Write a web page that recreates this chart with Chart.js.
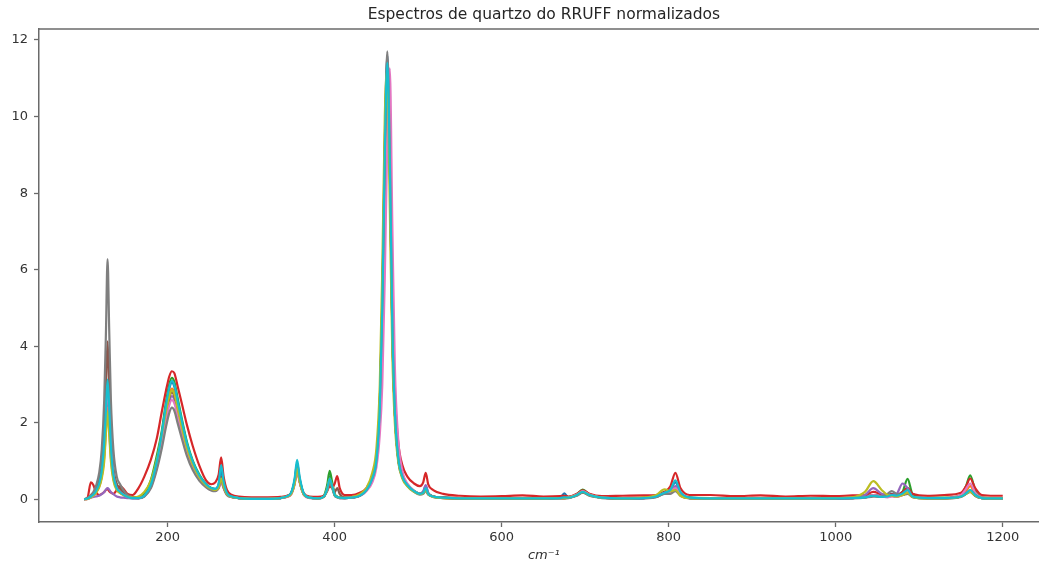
<!DOCTYPE html>
<html>
<head>
<meta charset="utf-8">
<script src="https://cdn.jsdelivr.net/npm/chart.js@4.4.1/dist/chart.umd.min.js"></script>
<style>
  html, body { margin: 0; padding: 0; background: #fff; overflow: hidden; width: 1039px; height: 569px; }
  canvas { display: block; }
</style>
</head>
<body>
<canvas id="chart" width="1039" height="569"></canvas>
<script>
// Raman shift grid (cm^-1) shared by all spectra
const wavenumbers = [
  100,104,108,111,114,118,121,124,126,128,130,132,
  135,139,143,147,152,158,165,172,180,187,
  193,198,202,205,208,212,217,223,230,238,
  246,252,257,261,264,267,271,277,285,300,
  320,335,343,348,352,355,358,363,370,380,
  387,391,394,397,400,403,406,412,420,430,
  438,445,450,454,457,460,463,466,469,472,
  476,481,487,495,502,506,509,512,518,530,
  550,575,600,625,650,670,675,680,690,697,
  705,720,745,770,785,795,802,808,814,825,
  850,880,910,940,970,1000,1020,1035,1045,1055,
  1062,1067,1073,1080,1086,1092,1110,1130,1150,1156,
  1161,1167,1175,1190,1200
];

// Normalized intensities of each quartz spectrum
const spectrum01 = [
  0.01,0.03,0.08,0.12,0.2,0.4,0.7,1.3,2.1,2.8,2.1,1.3,
  0.6,0.3,0.2,0.13,0.07,0.04,0.04,0.1,0.4,1.0,
  1.7,2.43,2.9,3.05,2.95,2.53,2.02,1.45,0.98,0.62,
  0.4,0.3,0.28,0.4,0.75,0.42,0.16,0.08,0.04,0.02,
  0.02,0.04,0.09,0.18,0.5,0.95,0.55,0.15,0.05,0.03,
  0.08,0.3,0.6,0.38,0.13,0.07,0.05,0.04,0.05,0.1,
  0.25,0.55,1.05,2.5,5.1,9.2,11.6,8.9,4.5,2.3,
  1.1,0.6,0.38,0.22,0.15,0.2,0.35,0.17,0.08,0.05,
  0.03,0.03,0.03,0.03,0.03,0.05,0.16,0.05,0.12,0.2,
  0.12,0.05,0.03,0.04,0.08,0.18,0.25,0.45,0.18,0.05,
  0.03,0.03,0.03,0.03,0.03,0.04,0.04,0.07,0.12,0.1,
  0.1,0.15,0.12,0.2,0.3,0.1,0.04,0.04,0.08,0.15,
  0.22,0.1,0.04,0.03,0.03
];
const spectrum02 = [
  0.01,0.02,0.06,0.1,0.18,0.35,0.6,1.1,1.8,2.4,1.8,1.1,
  0.55,0.28,0.18,0.12,0.06,0.04,0.04,0.1,0.37,0.93,
  1.62,2.31,2.75,2.9,2.8,2.41,1.92,1.38,0.93,0.59,
  0.37,0.28,0.25,0.32,0.55,0.34,0.14,0.07,0.04,0.02,
  0.02,0.04,0.08,0.15,0.42,0.8,0.47,0.13,0.05,0.03,
  0.08,0.28,0.55,0.35,0.12,0.07,0.05,0.04,0.05,0.1,
  0.25,0.55,1.05,2.4,4.9,8.9,11.3,8.7,4.4,2.3,
  1.1,0.6,0.38,0.22,0.15,0.18,0.28,0.15,0.08,0.05,
  0.03,0.03,0.03,0.03,0.03,0.04,0.04,0.05,0.12,0.2,
  0.12,0.05,0.03,0.04,0.08,0.18,0.2,0.28,0.12,0.04,
  0.03,0.03,0.03,0.03,0.03,0.03,0.04,0.06,0.1,0.07,
  0.08,0.1,0.08,0.12,0.18,0.08,0.04,0.04,0.1,0.22,
  0.35,0.15,0.05,0.03,0.03
];
const spectrum03 = [
  0.01,0.03,0.1,0.15,0.25,0.45,0.8,1.5,2.3,3.0,2.4,1.5,
  0.75,0.4,0.3,0.2,0.1,0.06,0.06,0.15,0.52,1.15,
  1.8,2.55,3.02,3.18,3.07,2.64,2.1,1.51,1.02,0.65,
  0.4,0.3,0.27,0.33,0.56,0.36,0.15,0.08,0.05,0.03,
  0.03,0.05,0.09,0.17,0.46,0.85,0.5,0.15,0.06,0.04,
  0.1,0.38,0.75,0.45,0.15,0.08,0.05,0.05,0.06,0.12,
  0.27,0.6,1.1,2.5,5.0,9.0,11.4,8.8,4.5,2.3,
  1.1,0.62,0.4,0.23,0.15,0.18,0.25,0.15,0.08,0.05,
  0.04,0.04,0.04,0.04,0.04,0.05,0.05,0.06,0.15,0.26,
  0.14,0.06,0.04,0.05,0.09,0.2,0.22,0.3,0.13,0.05,
  0.04,0.04,0.04,0.04,0.04,0.04,0.05,0.07,0.12,0.08,
  0.08,0.1,0.08,0.2,0.54,0.15,0.05,0.05,0.12,0.35,
  0.63,0.25,0.06,0.04,0.04
];
const spectrum04 = [
  0.01,0.05,0.45,0.38,0.2,0.12,0.15,0.2,0.25,0.28,0.22,0.18,
  0.15,0.25,0.35,0.28,0.15,0.12,0.3,0.6,1.05,1.6,
  2.3,2.85,3.22,3.35,3.3,2.95,2.5,1.95,1.4,0.88,
  0.5,0.4,0.45,0.65,1.1,0.6,0.25,0.12,0.08,0.06,
  0.06,0.07,0.1,0.18,0.46,0.85,0.5,0.16,0.08,0.07,
  0.1,0.22,0.35,0.3,0.42,0.61,0.3,0.12,0.12,0.18,
  0.3,0.6,1.1,2.4,4.9,8.8,11.3,9.0,5.0,2.8,
  1.5,0.9,0.6,0.42,0.35,0.45,0.7,0.4,0.25,0.15,
  0.1,0.08,0.09,0.11,0.08,0.09,0.1,0.08,0.15,0.24,
  0.15,0.09,0.1,0.11,0.12,0.2,0.35,0.7,0.3,0.12,
  0.12,0.09,0.11,0.08,0.1,0.09,0.11,0.12,0.2,0.14,
  0.12,0.14,0.12,0.2,0.3,0.15,0.1,0.12,0.18,0.35,
  0.55,0.3,0.12,0.1,0.1
];
const spectrum05 = [
  0.01,0.02,0.05,0.07,0.08,0.1,0.14,0.2,0.26,0.3,0.26,0.2,
  0.14,0.08,0.06,0.05,0.04,0.03,0.03,0.09,0.35,0.87,
  1.51,2.15,2.56,2.7,2.61,2.24,1.78,1.28,0.87,0.55,
  0.35,0.26,0.24,0.3,0.5,0.32,0.13,0.07,0.04,0.02,
  0.02,0.04,0.08,0.15,0.42,0.8,0.47,0.13,0.05,0.03,
  0.08,0.26,0.5,0.33,0.11,0.06,0.04,0.04,0.05,0.1,
  0.25,0.55,1.05,2.3,4.8,8.8,11.2,8.7,4.4,2.3,
  1.05,0.58,0.37,0.22,0.15,0.22,0.38,0.18,0.08,0.05,
  0.03,0.03,0.03,0.03,0.03,0.04,0.04,0.05,0.12,0.2,
  0.12,0.05,0.03,0.04,0.08,0.18,0.22,0.35,0.14,0.04,
  0.03,0.03,0.03,0.03,0.03,0.03,0.05,0.12,0.3,0.15,
  0.1,0.12,0.15,0.42,0.3,0.08,0.04,0.04,0.08,0.18,
  0.22,0.1,0.04,0.03,0.03
];
const spectrum06 = [
  0.01,0.03,0.09,0.14,0.25,0.5,0.9,1.8,2.9,4.13,3.0,1.7,
  0.8,0.4,0.28,0.18,0.09,0.05,0.04,0.09,0.36,0.9,
  1.57,2.23,2.66,2.8,2.7,2.33,1.85,1.33,0.9,0.57,
  0.36,0.27,0.25,0.33,0.6,0.35,0.14,0.07,0.04,0.02,
  0.02,0.04,0.08,0.16,0.44,0.82,0.48,0.14,0.05,0.03,
  0.08,0.26,0.5,0.33,0.2,0.3,0.15,0.05,0.05,0.1,
  0.25,0.55,1.05,2.4,4.9,8.9,11.3,8.7,4.4,2.3,
  1.1,0.6,0.38,0.22,0.15,0.18,0.27,0.15,0.08,0.05,
  0.03,0.03,0.03,0.03,0.03,0.04,0.04,0.05,0.11,0.18,
  0.11,0.05,0.03,0.04,0.07,0.16,0.18,0.25,0.11,0.04,
  0.03,0.03,0.03,0.03,0.03,0.03,0.04,0.06,0.1,0.07,
  0.07,0.1,0.08,0.12,0.18,0.07,0.03,0.03,0.08,0.15,
  0.2,0.1,0.04,0.03,0.03
];
const spectrum07 = [
  0.01,0.02,0.06,0.1,0.18,0.35,0.6,1.2,2.0,2.96,2.4,1.4,
  0.65,0.3,0.2,0.13,0.07,0.04,0.04,0.09,0.33,0.84,
  1.45,2.07,2.47,2.6,2.51,2.16,1.72,1.23,0.84,0.53,
  0.34,0.25,0.23,0.29,0.45,0.3,0.12,0.06,0.04,0.02,
  0.02,0.04,0.07,0.14,0.4,0.75,0.45,0.13,0.04,0.03,
  0.08,0.26,0.5,0.33,0.11,0.06,0.04,0.04,0.05,0.1,
  0.22,0.45,0.85,1.7,3.0,5.8,9.4,11.26,7.2,3.5,
  1.6,0.75,0.42,0.23,0.15,0.17,0.25,0.14,0.07,0.04,
  0.03,0.03,0.03,0.03,0.03,0.04,0.04,0.05,0.13,0.22,
  0.13,0.05,0.03,0.04,0.08,0.17,0.2,0.3,0.12,0.04,
  0.03,0.03,0.03,0.03,0.03,0.03,0.04,0.06,0.12,0.08,
  0.06,0.08,0.07,0.12,0.2,0.07,0.04,0.04,0.12,0.28,
  0.42,0.18,0.05,0.03,0.03
];
const spectrum08 = [
  0.01,0.04,0.12,0.2,0.35,0.7,1.3,2.6,4.3,6.28,4.4,2.6,
  1.3,0.6,0.4,0.25,0.12,0.06,0.04,0.08,0.3,0.78,
  1.34,1.9,2.27,2.4,2.32,1.99,1.59,1.14,0.77,0.49,
  0.32,0.24,0.22,0.3,0.5,0.3,0.12,0.06,0.04,0.02,
  0.02,0.04,0.08,0.17,0.48,0.9,0.52,0.15,0.05,0.03,
  0.07,0.24,0.45,0.3,0.1,0.06,0.04,0.04,0.05,0.1,
  0.25,0.55,1.05,2.5,5.2,9.4,11.7,9.0,4.6,2.3,
  1.1,0.6,0.36,0.2,0.13,0.15,0.22,0.13,0.07,0.04,
  0.02,0.02,0.02,0.02,0.02,0.03,0.03,0.04,0.1,0.18,
  0.1,0.04,0.02,0.03,0.06,0.15,0.15,0.22,0.1,0.03,
  0.02,0.02,0.02,0.02,0.02,0.02,0.03,0.05,0.08,0.08,
  0.15,0.22,0.15,0.12,0.15,0.06,0.03,0.03,0.07,0.15,
  0.25,0.12,0.04,0.03,0.03
];
const spectrum09 = [
  0.01,0.02,0.06,0.1,0.17,0.32,0.55,1.0,1.7,2.3,1.7,1.0,
  0.5,0.25,0.17,0.12,0.07,0.05,0.08,0.2,0.5,1.05,
  1.7,2.3,2.7,2.85,2.75,2.37,1.88,1.35,0.92,0.58,
  0.37,0.28,0.25,0.32,0.55,0.34,0.14,0.07,0.04,0.02,
  0.02,0.04,0.08,0.15,0.42,0.8,0.47,0.13,0.05,0.03,
  0.08,0.28,0.55,0.35,0.12,0.07,0.05,0.04,0.06,0.14,
  0.3,0.7,1.35,3.0,6.0,10.0,11.2,7.6,3.8,2.0,
  1.0,0.55,0.35,0.2,0.14,0.17,0.25,0.14,0.07,0.04,
  0.03,0.03,0.03,0.03,0.03,0.04,0.04,0.05,0.12,0.2,
  0.12,0.05,0.03,0.05,0.12,0.27,0.22,0.25,0.1,0.04,
  0.03,0.03,0.03,0.03,0.03,0.04,0.06,0.2,0.48,0.25,
  0.12,0.1,0.08,0.12,0.18,0.07,0.03,0.03,0.08,0.15,
  0.2,0.1,0.04,0.03,0.03
];
const spectrum10 = [
  0.01,0.03,0.08,0.13,0.22,0.42,0.75,1.5,2.3,3.13,2.4,1.4,
  0.65,0.3,0.2,0.13,0.07,0.04,0.04,0.1,0.4,1.0,
  1.73,2.47,2.94,3.1,2.99,2.57,2.05,1.47,1.0,0.63,
  0.4,0.3,0.28,0.42,0.9,0.48,0.17,0.08,0.04,0.02,
  0.02,0.04,0.09,0.19,0.55,1.04,0.6,0.16,0.05,0.03,
  0.08,0.28,0.55,0.35,0.12,0.07,0.05,0.04,0.05,0.1,
  0.25,0.55,1.05,2.4,5.0,9.0,11.4,8.8,4.5,2.3,
  1.1,0.6,0.38,0.22,0.15,0.18,0.3,0.15,0.08,0.05,
  0.03,0.03,0.03,0.03,0.03,0.04,0.06,0.05,0.12,0.2,
  0.12,0.05,0.03,0.04,0.08,0.18,0.25,0.5,0.2,0.05,
  0.03,0.03,0.03,0.03,0.03,0.03,0.04,0.06,0.1,0.07,
  0.08,0.12,0.1,0.16,0.25,0.08,0.04,0.04,0.08,0.16,
  0.25,0.12,0.04,0.03,0.03
];

const spectra = [spectrum01, spectrum02, spectrum03, spectrum04, spectrum05,
                 spectrum06, spectrum07, spectrum08, spectrum09, spectrum10];

// Axis ticks and limits (the axis runs on to 1255 past the right edge of the page)
const xTicks = [200, 400, 600, 800, 1000, 1200];
const yTicks = [0, 2, 4, 6, 8, 10, 12];
const xLimits = [45.9, 1243.4];
const xAxisEnd = 1255;
const yLimits = [-0.585, 12.285];

const chartTitle = 'Espectros de quartzo do RRUFF normalizados';
const xAxisTitle = 'cm⁻¹';

// Line colours (tab10 cycle)
const palette = ['#1f77b4', '#ff7f0e', '#2ca02c', '#d62728', '#9467bd',
                 '#8c564b', '#e377c2', '#7f7f7f', '#bcbd22', '#17becf'];

const FONT = 'DejaVu Sans';
const SPINE = '#6a6a6a';

// Top frame line, plus title and x-axis label centred on the full axis span
const framePlugin = {
  id: 'frame',
  afterDatasetsDraw(chart) {
    const { ctx, chartArea: a } = chart;
    ctx.save();
    ctx.strokeStyle = SPINE;
    ctx.lineWidth = 1.5;
    ctx.beginPath();
    ctx.moveTo(a.left, a.top);
    ctx.lineTo(a.right, a.top);
    ctx.stroke();
    ctx.restore();
  },
  afterDraw(chart) {
    const { ctx, scales: { x } } = chart;
    const cx = x.getPixelForValue((xLimits[0] + xAxisEnd) / 2);
    ctx.save();
    ctx.textAlign = 'center';
    ctx.textBaseline = 'middle';
    ctx.fillStyle = '#262626';
    ctx.font = `15.5px "${FONT}"`;
    ctx.fillText(chartTitle, cx, 15);
    ctx.fillStyle = '#333';
    ctx.font = `italic 13px "${FONT}"`;
    ctx.fillText(xAxisTitle, cx, 556);
    ctx.restore();
  }
};

const datasets = spectra.map((values, i) => ({
  data: wavenumbers.map((w, k) => ({ x: w, y: values[k] })),
  borderColor: palette[i % palette.length],
  borderWidth: 2.2,
  pointRadius: 0,
  fill: false,
  cubicInterpolationMode: 'monotone',
  order: spectra.length - i
}));

new Chart(document.getElementById('chart'), {
  type: 'line',
  data: { datasets },
  plugins: [framePlugin],
  options: {
    responsive: false,
    animation: false,
    events: [],
    layout: { padding: { left: 0, right: 0, top: 29, bottom: 0 } },
    plugins: {
      legend: { display: false },
      tooltip: { enabled: false },
      title: { display: false }
    },
    scales: {
      x: {
        type: 'linear',
        min: xLimits[0],
        max: xLimits[1],
        afterBuildTicks: s => { s.ticks = xTicks.map(v => ({ value: v })); },
        afterFit: s => { s.height = 47; },
        grid: { display: true, drawOnChartArea: false, drawTicks: true, tickLength: 5, tickColor: SPINE, tickWidth: 1.3 },
        border: { display: true, color: SPINE, width: 1.5 },
        ticks: { color: '#333', font: { family: FONT, size: 13 }, padding: 3, maxRotation: 0, autoSkip: false,
                 callback: v => String(v) }
      },
      y: {
        type: 'linear',
        min: yLimits[0],
        max: yLimits[1],
        afterBuildTicks: s => { s.ticks = yTicks.map(v => ({ value: v })); },
        afterFit: s => { s.width = 39; },
        grid: { display: true, drawOnChartArea: false, drawTicks: true, tickLength: 5, tickColor: SPINE, tickWidth: 1.3 },
        border: { display: true, color: SPINE, width: 1.5 },
        ticks: { color: '#333', font: { family: FONT, size: 13 }, padding: 6, autoSkip: false,
                 callback: v => String(v) }
      }
    }
  }
});
</script>
</body>
</html>
